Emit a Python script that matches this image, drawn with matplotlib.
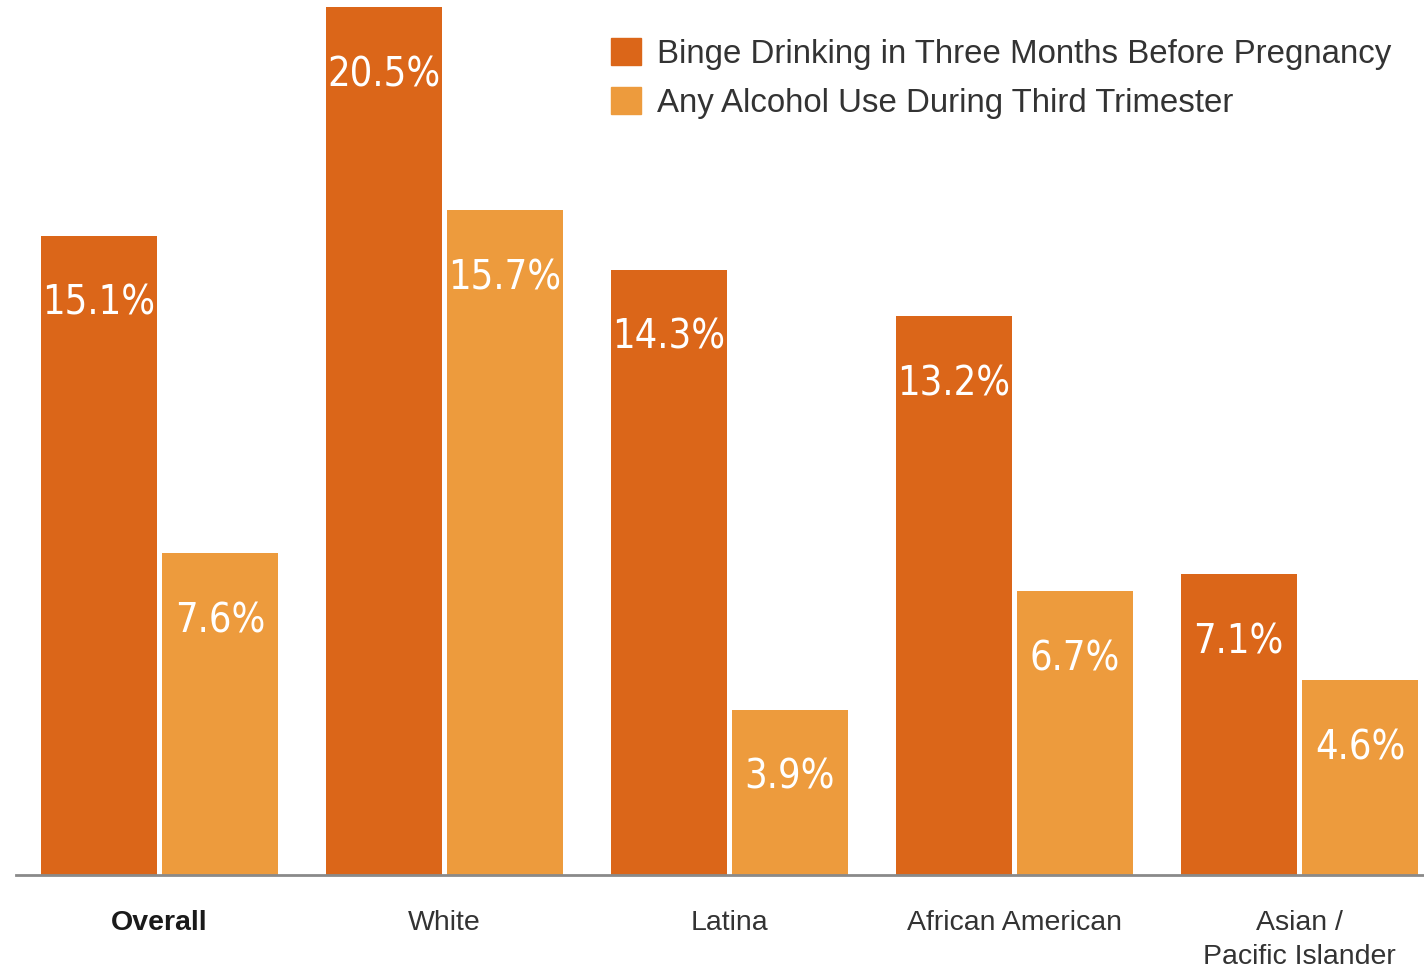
import matplotlib.pyplot as plt
from matplotlib.patches import Patch
from matplotlib import font_manager
import numpy as np

# Data
groups = ["Overall", "White", "Latina", "African American", "Asian /\nPacific Islander"]
binge = [15.1, 20.5, 14.3, 13.2, 7.1]
third_trim = [7.6, 15.7, 3.9, 6.7, 4.6]
series_names = ["Binge Drinking in Three Months Before Pregnancy",
                "Any Alcohol Use During Third Trimester"]

dark = "#DB6619"
light = "#ED9B3D"

# pick a condensed face for the numbers if one is installed
cond = [f for f in font_manager.fontManager.ttflist
        if f.style == "normal" and f.weight in (400, "normal")
        and (f.stretch in ("condensed", "semi-condensed")
             or "Condensed" in f.name or "Narrow" in f.name)]
if cond:
    num_font = font_manager.FontProperties(fname=cond[0].fname, size=28.5)
else:
    num_font = font_manager.FontProperties(family="Liberation Sans", size=27)

fig = plt.figure(figsize=(14.24, 9.71), dpi=100)
ax = fig.add_axes([16 / 1424, 96 / 971, 1 - 16 / 1424, 875 / 971])

x = np.arange(len(groups))
w = 0.407
off = 0.214
b1 = ax.bar(x - off + 0.002, binge, width=w, color=dark)
b2 = ax.bar(x + off, third_trim, width=w, color=light)

ax.set_xlim(-0.5018, 4.4386)
ax.set_ylim(0, 20.67)

# value labels inside the bars
for bars, vals in [(b1, binge), (b2, third_trim)]:
    for r, v in zip(bars, vals):
        ax.annotate(f"{v}%", (r.get_x() + r.get_width() / 2, v),
                    xytext=(0, -49), textcoords="offset points",
                    ha="center", va="center", color="white",
                    fontproperties=num_font)

for s in ["top", "right", "left"]:
    ax.spines[s].set_visible(False)
ax.spines["bottom"].set_color("#8a8a8a")
ax.spines["bottom"].set_linewidth(2)
ax.set_yticks([])
ax.set_xticks(x)
ax.set_xticklabels(groups, fontsize=20.5, color="#333333",
                   family=["Liberation Sans", "DejaVu Sans"], linespacing=1.42,
                   va="top")
ax.tick_params(axis="x", length=0, pad=25)
ax.get_xticklabels()[0].set_fontweight("bold")
ax.get_xticklabels()[0].set_color("#1a1a1a")

handles = [Patch(color=dark), Patch(color=light)]
ax.legend(handles, series_names, loc="upper left",
          bbox_to_anchor=(595 / 1408, 1.0 - 38 / 875), frameon=False,
          prop={"family": ["Liberation Sans", "DejaVu Sans"], "size": 23.8},
          labelcolor="#333333", handlelength=0.9, handleheight=0.9,
          handletextpad=0.48, labelspacing=0.5, borderpad=0, borderaxespad=0)

fig.savefig("out.png", dpi=100, facecolor="white")
